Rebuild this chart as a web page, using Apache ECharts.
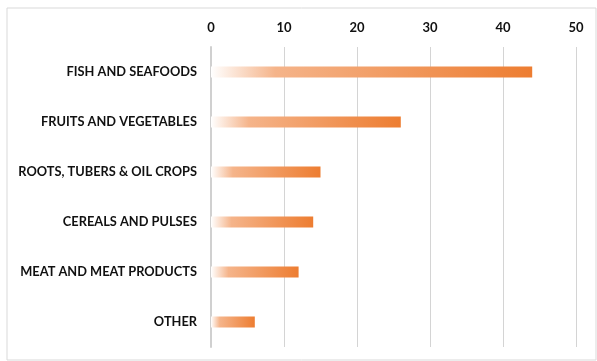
<!DOCTYPE html>
<html>
<head>
<meta charset="utf-8">
<script src="https://cdn.jsdelivr.net/npm/echarts@6/dist/echarts.min.js"></script>
<style>
  html, body { margin: 0; padding: 0; background: #fff; }
  #chart { width: 597px; height: 361px; }
</style>
</head>
<body>
<div id="chart"></div>
<script>
const categories = [
  'FISH AND SEAFOODS',
  'FRUITS AND VEGETABLES',
  'ROOTS, TUBERS & OIL CROPS',
  'CEREALS AND PULSES',
  'MEAT AND MEAT PRODUCTS',
  'OTHER'
];
const values = [44, 26, 15, 14, 12, 6];
const xTicks = [0, 10, 20, 30, 40, 50];

const chart = echarts.init(document.getElementById('chart'));

const barGradient = new echarts.graphic.LinearGradient(0, 0, 1, 0, [
  { offset: 0, color: '#ffffff' },
  { offset: 0.2, color: '#f5b48a' },
  { offset: 1, color: '#ed7d31' }
]);

chart.setOption({
  animation: false,
  graphic: [{
    type: 'rect',
    shape: { x: 7, y: 8, width: 589, height: 352 },
    style: { fill: 'none', stroke: '#d9d9d9', lineWidth: 1 },
    silent: true
  }],
  grid: { left: 211, right: 21, top: 47, bottom: 14 },
  xAxis: {
    type: 'value',
    position: 'top',
    min: xTicks[0],
    max: xTicks[xTicks.length - 1],
    interval: 10,
    axisLine: { show: false },
    axisTick: { show: false },
    axisLabel: {
      margin: 13,
      color: '#111',
      fontFamily: 'Lato',
      fontWeight: 'bold',
      fontSize: 13
    },
    splitLine: { lineStyle: { color: '#d4d4d4', width: 1 } }
  },
  yAxis: {
    type: 'category',
    inverse: true,
    data: categories,
    axisLine: { show: true, lineStyle: { color: '#d0d0d0', width: 2 } },
    axisTick: { show: false },
    axisLabel: {
      margin: 14,
      color: '#111',
      fontFamily: 'Lato',
      fontWeight: 'bold',
      fontSize: 12.8
    }
  },
  series: [{
    type: 'bar',
    data: values,
    barWidth: 11,
    itemStyle: { color: barGradient }
  }]
});
</script>
</body>
</html>
